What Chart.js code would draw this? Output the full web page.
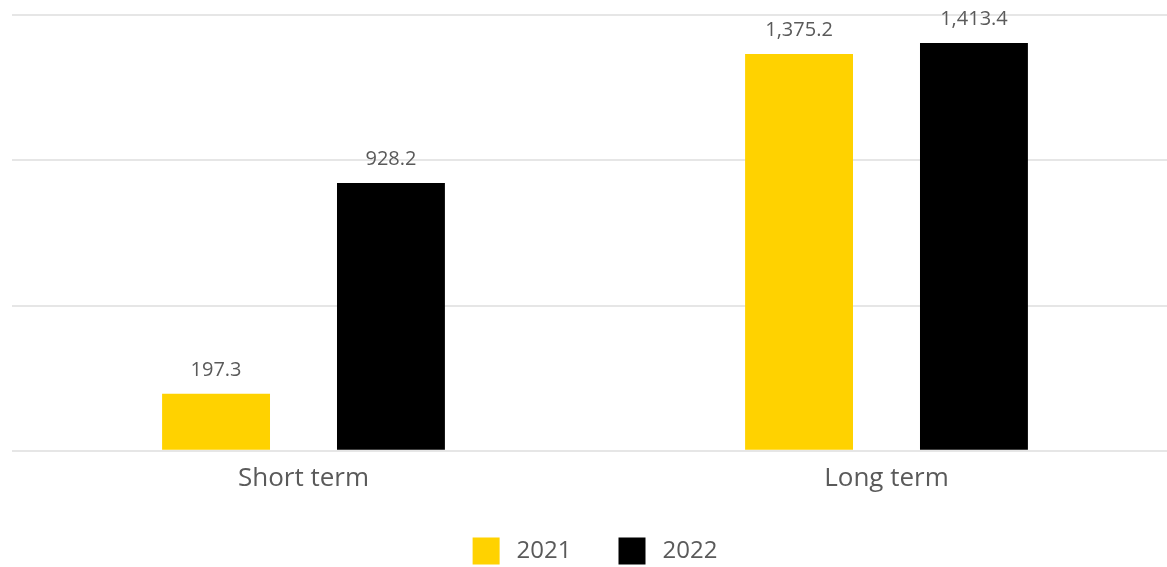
<!DOCTYPE html>
<html>
<head>
<meta charset="utf-8">
<script src="https://cdn.jsdelivr.net/npm/chart.js@4/dist/chart.umd.min.js"></script>
<style>
  html, body { margin: 0; padding: 0; background: #ffffff; overflow: hidden; }
  #wrap { width: 1178px; height: 567px; }
</style>
</head>
<body>
<div id="wrap"><canvas id="c" width="1178" height="567"></canvas></div>
<script>
const categories = ["Short term", "Long term"];
const seriesNames = ["2021", "2022"];
const values2021 = [197.3, 1375.2];
const values2022 = [928.2, 1413.4];
const seriesColors = ["#FFD200", "#000000"];

const TEXT_COLOR = "#5a5a5a";
const FONT_FAMILY = '"Open Sans", "Noto Sans", sans-serif';

const valueLabels = {
  id: "valueLabels",
  afterDatasetsDraw(chart) {
    const ctx = chart.ctx;
    ctx.save();
    ctx.font = "20px " + FONT_FAMILY;
    ctx.fillStyle = TEXT_COLOR;
    ctx.textAlign = "center";
    ctx.textBaseline = "middle";
    chart.data.datasets.forEach((ds, di) => {
      const meta = chart.getDatasetMeta(di);
      meta.data.forEach((bar, i) => {
        const v = ds.data[i];
        const txt = v.toLocaleString("en-US", { minimumFractionDigits: 1, maximumFractionDigits: 1 });
        ctx.fillText(txt, bar.x, bar.y - 24);
      });
    });
    ctx.restore();
  }
};

const customLegend = {
  id: "customLegend",
  afterDraw(chart) {
    const ctx = chart.ctx;
    const box = 27, gap = 17, itemGap = 47;
    ctx.save();
    ctx.font = "24px " + FONT_FAMILY;
    const items = chart.data.datasets.map(ds => ({ text: ds.label, color: ds.backgroundColor, w: ctx.measureText(ds.label).width }));
    let total = 0;
    items.forEach((it, i) => { total += box + gap + it.w + (i < items.length - 1 ? itemGap : 0); });
    const ca = chart.chartArea;
    let x = (ca.left + ca.right) / 2 - total / 2;
    const cy = 551;
    items.forEach(it => {
      ctx.fillStyle = it.color;
      ctx.fillRect(x, cy - box / 2, box, box);
      x += box + gap;
      ctx.fillStyle = TEXT_COLOR;
      ctx.textAlign = "left";
      ctx.textBaseline = "middle";
      ctx.fillText(it.text, x, cy);
      x += it.w + itemGap;
    });
    ctx.restore();
  }
};

new Chart(document.getElementById("c"), {
  type: "bar",
  data: {
    labels: categories,
    datasets: [
      { label: seriesNames[0], data: values2021, backgroundColor: seriesColors[0], borderWidth: 0 },
      { label: seriesNames[1], data: values2022, backgroundColor: seriesColors[1], borderWidth: 0 }
    ]
  },
  options: {
    responsive: false,
    animation: false,
    events: [],
    layout: { padding: { left: 12, right: 0, top: 15, bottom: 61 } },
    datasets: { bar: { categoryPercentage: 0.6, barPercentage: 0.617 } },
    plugins: {
      legend: { display: false },
      tooltip: { enabled: false }
    },
    scales: {
      x: {
        grid: { display: false, drawTicks: false },
        border: { display: false },
        ticks: { color: TEXT_COLOR, font: { family: FONT_FAMILY, size: 26 }, padding: 12 }
      },
      y: {
        min: 0,
        max: 1510,
        ticks: { display: false, count: 4 },
        grid: { color: "#e6e6e6", lineWidth: 2, drawTicks: false },
        border: { display: false }
      }
    }
  },
  plugins: [valueLabels, customLegend]
});
</script>
</body>
</html>
